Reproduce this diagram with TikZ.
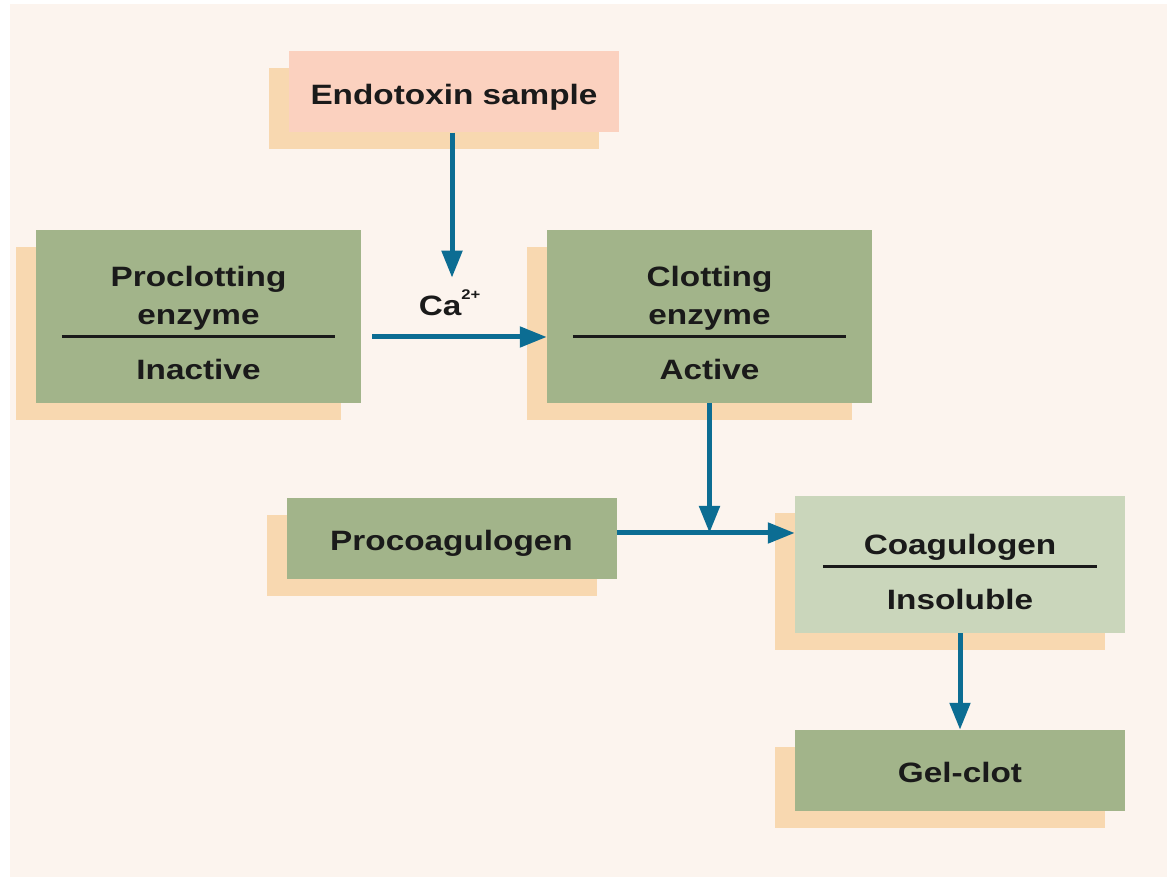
\documentclass[tikz,border=0pt]{standalone}
\usepackage{fontspec}
\setmainfont{Liberation Sans}[FakeStretch=1.19]
\usetikzlibrary{positioning,shadows,arrows.meta}

\definecolor{bgcol}{HTML}{FCF4EE}
\definecolor{shadecol}{HTML}{F8D8B0}
\definecolor{pinkcol}{HTML}{FBD1BF}
\definecolor{greencol}{HTML}{A2B48A}
\definecolor{palecol}{HTML}{CAD6BB}
\definecolor{flowcol}{HTML}{0C6D93}
\definecolor{inkcol}{HTML}{1A1A1A}

\begin{document}
\begin{tikzpicture}[x=1pt,y=1pt,on grid,
    font=\fontsize{28}{38}\selectfont\bfseries,text=inkcol,
    box/.style={rectangle,inner sep=0pt,minimum width=330pt,minimum height=81pt,
      text height=25pt,text depth=0pt,
      general shadow={fill=shadecol,shadow xshift=-20pt,shadow yshift=-17pt}},
    tall/.style={box,minimum width=325pt,minimum height=173pt},
    flow/.style={color=flowcol,line width=5pt,-{Triangle[length=27pt,width=20pt]}},
    divider/.style={draw=inkcol,line width=3pt}]
                \useasboundingbox (0,0) rectangle (1167,878);
                \fill[bgcol] (10,1) rectangle (1167,874);
                \node[box,fill=pinkcol] (endo) at (454,786) {Endotoxin sample};
                \node[tall,fill=greencol] (pro_enz) at (198.5,561.5) {};
                \node[tall,fill=greencol] (enz) [right=511pt of pro_enz] {};
                \node[box,fill=greencol] (pro_coag) at (451.5,339.5) {Procoagulogen};
                \node[box,fill=palecol,minimum height=137pt] (coag) at (960,313.5) {};
                \node[box,fill=greencol] (gel) [below=206pt of coag] {Gel-clot};
                % words above and below the bars
                \node[align=center] (pro_enz_a) at ([yshift=18pt]pro_enz.center) {Proclotting\\enzyme};
                \node[anchor=base] (pro_enz_b) at ([yshift=-63.5pt]pro_enz.center) {Inactive};
                \node[align=center] (enz_a) at ([yshift=18pt]enz.center) {Clotting\\enzyme};
                \node[anchor=base] (enz_b) at ([yshift=-63.5pt]enz.center) {Active};
                \node[anchor=base] (coag_a) at ([yshift=9.5pt]coag.center) {Coagulogen};
                \node[anchor=base] (coag_b) at ([yshift=-45.5pt]coag.center) {Insoluble};
                \draw[divider] ([xshift=26pt,yshift=-20.5pt]pro_enz.west) -- ([xshift=-26pt,yshift=-20.5pt]pro_enz.east);
                \draw[divider] ([xshift=26pt,yshift=-20.5pt]enz.west) -- ([xshift=-26pt,yshift=-20.5pt]enz.east);
                \draw[divider] ([xshift=28pt,yshift=-2.5pt]coag.west) -- ([xshift=-28pt,yshift=-2.5pt]coag.east);
                \coordinate (ca_tip) at ([xshift=-2pt,yshift=-145pt]endo.south);
                \coordinate (join) at ([yshift=5.5pt]pro_coag.east -| enz.south);
                \path[flow]
                (endo.south -| ca_tip) edge (ca_tip)
                ([xshift=11pt,yshift=-20.5pt]pro_enz.east) edge node[above=19pt,pos=0.443,inner sep=0pt,text=inkcol]
                    {Ca\raisebox{16pt}{\fontsize{14}{14}\selectfont 2+}} ([yshift=-20.5pt]enz.west)
                (enz) edge (join)
                ([yshift=5.5pt]pro_coag.east) edge ([yshift=5.5pt]pro_coag.east -| coag.west)
                (coag) edge (gel);
            \end{tikzpicture}
\end{document}
